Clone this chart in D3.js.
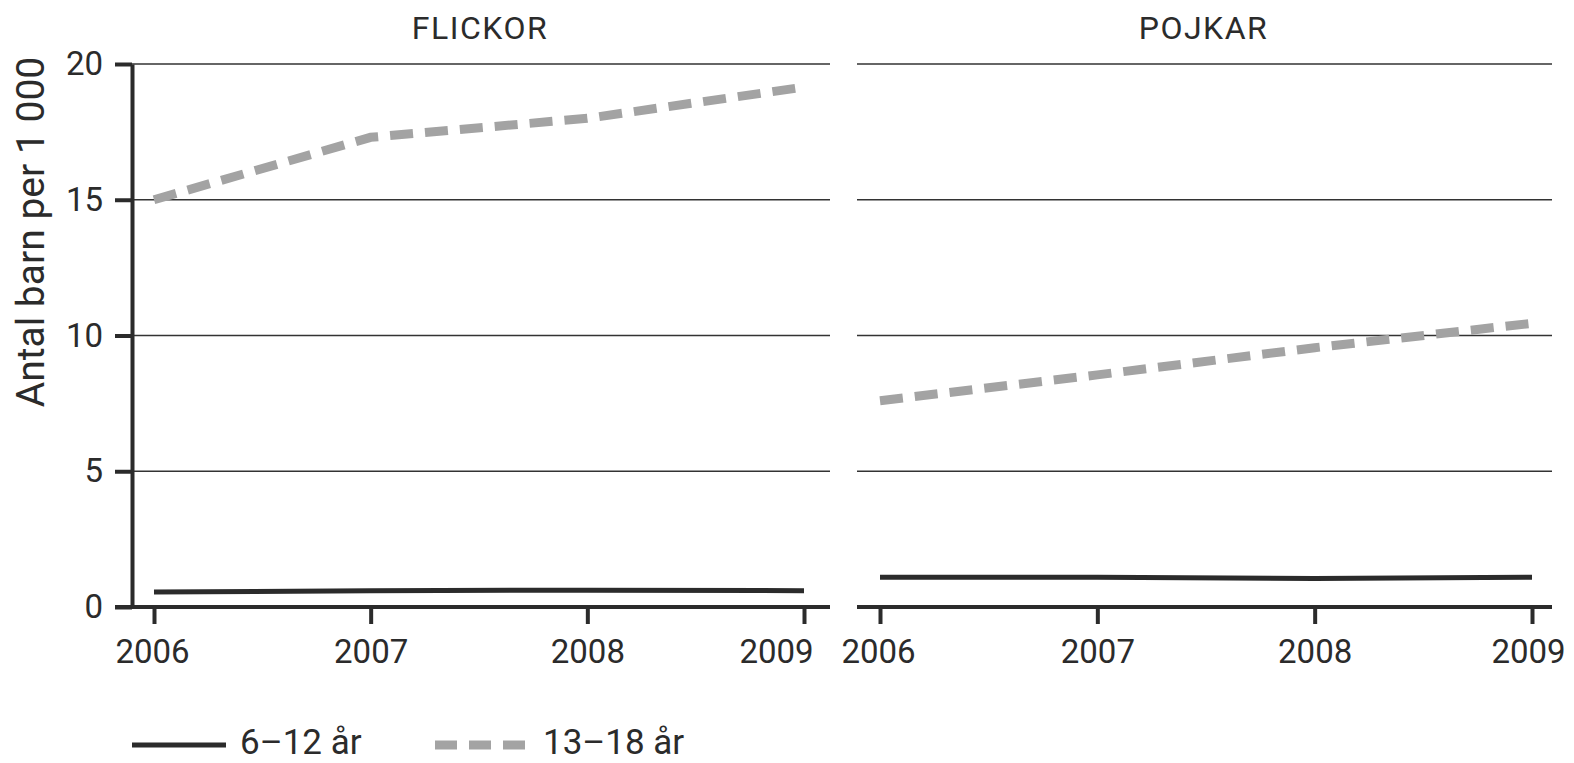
<!DOCTYPE html>
<html>
<head>
<meta charset="utf-8">
<script src="https://cdnjs.cloudflare.com/ajax/libs/d3/7.8.5/d3.min.js"></script>
<style>
  body { margin: 0; background: #fff; }
  text { font-family: Roboto, "DejaVu Sans", sans-serif; fill: #2b2b2b; }
</style>
</head>
<body>
<div id="viz"></div>
<script>
const width = 1574;
const height = 763;

// data
const years = [2006, 2007, 2008, 2009];
const yTicks = [0, 5, 10, 15, 20];
const panels = ["FLICKOR", "POJKAR"];
const seriesNames = ["6\u201312 år", "13\u201318 år"];
const flickorYoung = [0.55, 0.6, 0.62, 0.6];
const flickorOld = [15.0, 17.3, 18.0, 19.15];
const pojkarYoung = [1.1, 1.1, 1.05, 1.1];
const pojkarOld = [7.6, 8.55, 9.55, 10.45];

const svg = d3.select("#viz")
    .append("svg")
    .attr("width", width)
    .attr("height", height);

const dark = "#2b2b2b";
const grey = "#a3a3a3";

const yScale = d3.scaleLinear().domain([0, 20]).range([607, 64]);

const layout = [
    { name: panels[0], x0: 132, x1: 830, axisStart: 115, range: [154, 804], lastShift: -28, young: flickorYoung, old: flickorOld },
    { name: panels[1], x0: 857, x1: 1552, axisStart: 857, range: [880, 1532], lastShift: -4, young: pojkarYoung, old: pojkarOld }
];

layout.forEach(p => {
    const xScale = d3.scaleLinear().domain([2006, 2009]).range(p.range);
    const g = svg.append("g");

    // gridlines
    g.selectAll(".grid")
        .data(yTicks.filter(d => d > 0))
        .enter()
        .append("line")
        .attr("x1", p.x0)
        .attr("x2", p.x1)
        .attr("y1", d => yScale(d))
        .attr("y2", d => yScale(d))
        .attr("stroke", "#333")
        .attr("stroke-width", 1.4);

    // x axis
    const xAxis = d3.axisBottom(xScale)
        .tickValues(years)
        .tickFormat(d3.format("d"))
        .tickSize(17)
        .tickPadding(16);
    const xAxisG = g.append("g")
        .attr("transform", `translate(0, ${yScale(0)})`)
        .call(xAxis);
    xAxisG.select(".domain").remove();
    xAxisG.selectAll(".tick line").attr("stroke", dark).attr("stroke-width", 4);
    xAxisG.selectAll(".tick text")
        .attr("font-size", 33)
        .attr("fill", dark)
        .attr("dx", d => d === 2009 ? p.lastShift : (d === 2006 ? -2 : 0))
        .style("font-family", "Roboto, sans-serif");
    g.append("line")
        .attr("x1", p.axisStart)
        .attr("x2", p.x1)
        .attr("y1", yScale(0))
        .attr("y2", yScale(0))
        .attr("stroke", dark)
        .attr("stroke-width", 4);

    // panel title
    g.append("text")
        .attr("x", (p.x0 + p.x1) / 2 - 1)
        .attr("y", 39)
        .attr("text-anchor", "middle")
        .attr("font-size", 32)
        .attr("letter-spacing", 1.5)
        .text(p.name);

    const line = d3.line()
        .x((d, i) => xScale(years[i]))
        .y(d => yScale(d));

    g.append("path")
        .attr("d", line(p.old))
        .attr("fill", "none")
        .attr("stroke", grey)
        .attr("stroke-width", 9)
        .attr("stroke-dasharray", "23,12");

    g.append("path")
        .attr("d", line(p.young))
        .attr("fill", "none")
        .attr("stroke", dark)
        .attr("stroke-width", 5);
});

// y axis (left panel only)
const yAxis = d3.axisLeft(yScale)
    .tickValues(yTicks)
    .tickSize(17)
    .tickSizeOuter(0)
    .tickPadding(12);
const yAxisG = svg.append("g")
    .attr("transform", "translate(132, 0)")
    .call(yAxis);
yAxisG.select(".domain").attr("stroke", dark).attr("stroke-width", 4);
yAxisG.selectAll(".tick line").attr("stroke", dark).attr("stroke-width", 4);
yAxisG.selectAll(".tick text")
    .attr("font-size", 33)
    .attr("fill", dark)
    .style("font-family", "Roboto, sans-serif");

svg.append("text")
    .attr("transform", "translate(44, 232) rotate(-90)")
    .attr("text-anchor", "middle")
    .attr("font-size", 39)
    .text("Antal barn per 1 000");

// legend
const legend = svg.append("g").attr("transform", "translate(132, 745)");
const legendItems = [
    { name: seriesNames[0], x: 0, color: dark, w: 5, dash: null },
    { name: seriesNames[1], x: 303, color: grey, w: 9, dash: "22,12" }
];
legend.selectAll("line")
    .data(legendItems)
    .enter()
    .append("line")
    .attr("x1", d => d.x)
    .attr("x2", d => d.x + 94)
    .attr("y1", 0)
    .attr("y2", 0)
    .attr("stroke", d => d.color)
    .attr("stroke-width", d => d.w)
    .attr("stroke-dasharray", d => d.dash);
legend.selectAll("text")
    .data(legendItems)
    .enter()
    .append("text")
    .attr("x", d => d.x + 108)
    .attr("y", 9)
    .attr("font-size", 35)
    .text(d => d.name);
</script>
</body>
</html>
